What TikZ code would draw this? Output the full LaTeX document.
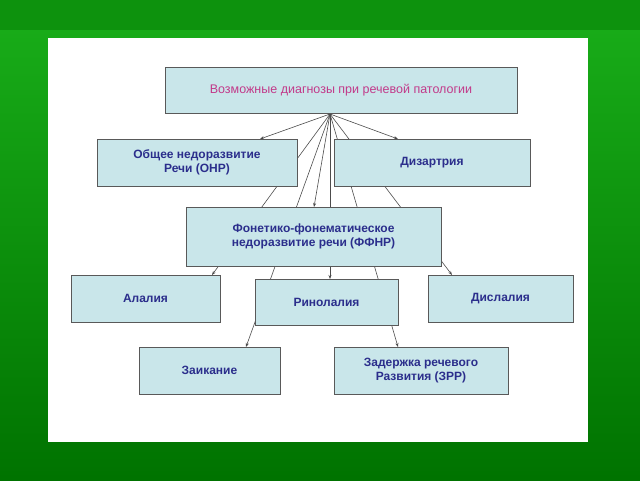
\documentclass[tikz,border=0pt]{standalone}
\usepackage{fontspec}
\setmainfont{Liberation Sans}
\usetikzlibrary{arrows.meta}
\definecolor{boxfill}{HTML}{C9E6EA}
\definecolor{navy}{HTML}{2B2E8C}
\definecolor{pinkt}{HTML}{C23A8A}
\begin{document}
\begin{tikzpicture}[x=1pt,y=-1pt,
  diag/.style={draw=gray!70!black,line width=0.8pt,fill=boxfill,align=center,font=\bfseries\fontsize{12}{14}\selectfont,text=navy,inner sep=0pt},
  conn/.style={draw=black!70,line width=0.6pt,-{Stealth[length=4pt,width=3pt]}}]
\useasboundingbox (0,0) rectangle (640,480);
\shade[top color=green!65!black!90,bottom color=green!45!black] (0,0) rectangle (640,480);
\fill[green!55!black!95] (0,0) rectangle (640,30);
\fill[white] (48,38) rectangle (588,442);
\coordinate (hub) at (330,114);
\coordinate (tONR) at (260,139);
\coordinate (tDiz) at (398,139);
\coordinate (tFF) at (314,207);
\coordinate (tAl) at (212,275);
\coordinate (tRin) at (330,279);
\coordinate (tDis) at (452,275);
\coordinate (tZa) at (246,347);
\coordinate (tZRP) at (398,347);
\foreach \t in {tONR,tDiz,tFF,tAl,tRin,tDis,tZa,tZRP} \draw[conn] (hub) -- (\t);
\node[diag,minimum width=352pt,minimum height=46pt,font=\fontsize{12.5}{14}\selectfont,text=pinkt] (top) at (341,90) {Возможные диагнозы при речевой патологии};
\node[diag,minimum width=200pt,minimum height=47pt] (onr) at (197,162.5) {Общее недоразвитие\\Речи (ОНР)};
\node[diag,minimum width=196pt,minimum height=47pt] (diz) at (432,162.5) {Дизартрия};
\node[diag,minimum width=255pt,minimum height=59pt] (ff) at (313.5,236.5) {Фонетико-фонематическое\\недоразвитие речи (ФФНР)};
\node[diag,minimum width=149pt,minimum height=47pt] (al) at (145.5,298.5) {Алалия};
\node[diag,minimum width=143pt,minimum height=46pt] (rin) at (326.5,302) {Ринолалия};
\node[diag,minimum width=145pt,minimum height=47pt] (dis) at (500.5,298.5) {Дислалия};
\node[diag,minimum width=141pt,minimum height=47pt] (za) at (209.5,370.5) {Заикание};
\node[diag,minimum width=174pt,minimum height=47pt] (zrp) at (421,370.5) {Задержка речевого\\Развития (ЗРР)};
\end{tikzpicture}
\end{document}
